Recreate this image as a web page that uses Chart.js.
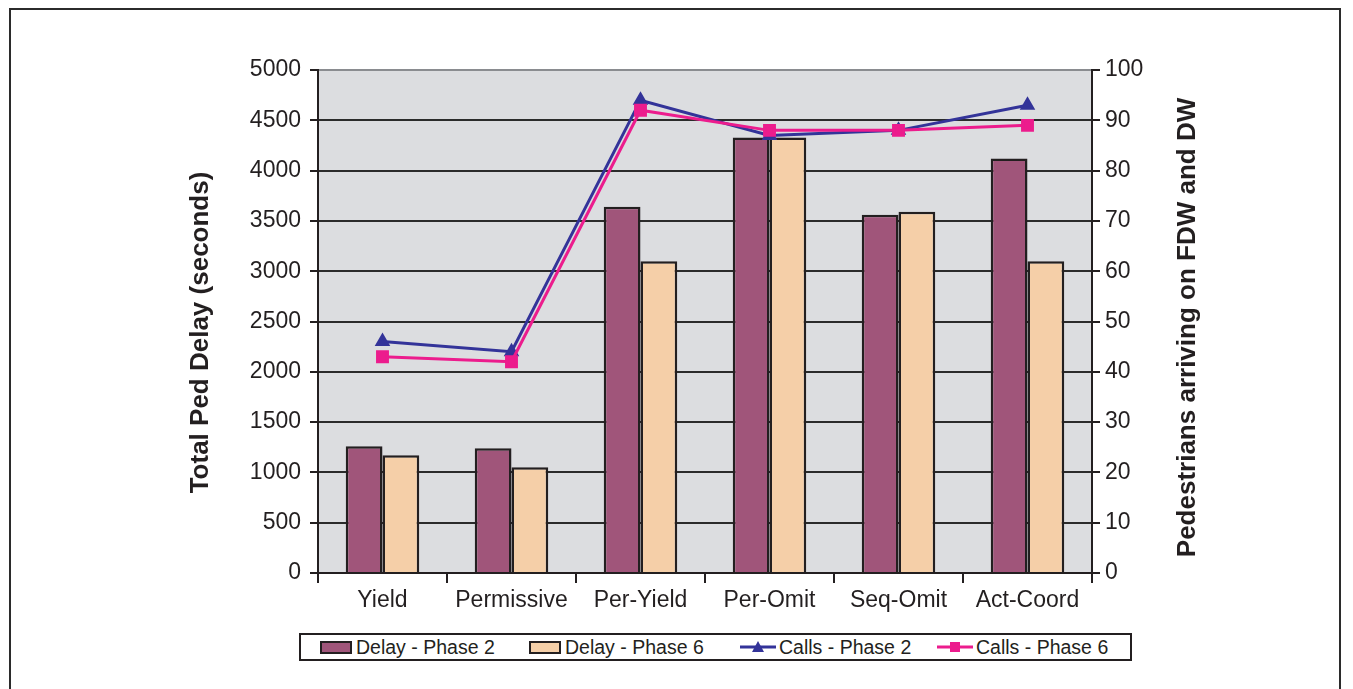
<!DOCTYPE html>
<html lang="en">
<head>
    <meta charset="UTF-8">
    <title>Total Ped Delay</title>
    <script src="https://cdn.jsdelivr.net/npm/chart.js@4"></script>
    <style>
        body { margin: 0; background: #fff; font-family: "Liberation Sans", Arial, sans-serif; color: #231f20; }
        #frame { position: absolute; left: 9px; top: 8px; width: 1332px; height: 700px; border: 2px solid #2b2b2b; border-bottom: none; box-sizing: border-box; }
        #wrap { position: absolute; left: 0; top: 0; width: 1353px; height: 689px; }
        #leyenda { position: absolute; left: 299px; top: 633px; width: 833px; height: 28px; border: 2px solid #231f20; background: #fff; box-sizing: border-box; }
        .item { position: absolute; top: 1px; height: 22px; display: flex; align-items: center; font-size: 19.5px; white-space: nowrap; }
        .caja { width: 32px; height: 13px; border: 2px solid #231f20; box-sizing: border-box; margin-right: 4px; }
    </style>
</head>
<body>
    <div id="frame"></div>
    <div id="wrap"><canvas id="grafico" width="1353" height="689"></canvas></div>
    <div id="leyenda">
        <div class="item" style="left:19px"><div class="caja" style="background:#a0557a"></div>Delay - Phase 2</div>
        <div class="item" style="left:228px"><div class="caja" style="background:#f5cfa8"></div>Delay - Phase 6</div>
        <div class="item" style="left:439px">
            <svg width="36" height="14" style="margin-right:3px"><line x1="0" y1="7" x2="36" y2="7" stroke="#333399" stroke-width="3"/><polygon points="18,1 24,12 12,12" fill="#333399"/></svg>Calls - Phase 2</div>
        <div class="item" style="left:636px">
            <svg width="36" height="14" style="margin-right:3px"><line x1="0" y1="7" x2="36" y2="7" stroke="#ec1c8d" stroke-width="3"/><rect x="13" y="2" width="10" height="10" fill="#ec1c8d"/></svg>Calls - Phase 6</div>
    </div>

    <script>
        // Datos
        const categorias = ['Yield', 'Permissive', 'Per-Yield', 'Per-Omit', 'Seq-Omit', 'Act-Coord'];
        const delayFase2 = [1260, 1240, 3640, 4330, 3560, 4120];
        const delayFase6 = [1170, 1050, 3100, 4330, 3590, 3100];
        const callsFase2 = [46, 44, 94, 87, 88, 93];
        const callsFase6 = [43, 42, 92, 88, 88, 89];

        const fuente = '"Liberation Sans", Arial, sans-serif';
        const tinta = '#231f20';
        const tituloIzquierdo = 'Total Ped Delay (seconds)';
        const tituloDerecho = 'Pedestrians arriving on FDW and DW';

        // Fondo gris del area de trazado
        const fondoArea = {
            id: 'fondoArea',
            beforeDraw(chart) {
                const { ctx, chartArea: a } = chart;
                ctx.save();
                ctx.fillStyle = '#dcdde0';
                ctx.fillRect(a.left, a.top, a.right - a.left, a.bottom - a.top);
                ctx.restore();
            }
        };

        // Titulos de los ejes, leidos de abajo hacia arriba
        function tituloVertical(ctx, texto, x, y) {
            ctx.save();
            ctx.translate(x, y);
            ctx.rotate(-Math.PI / 2);
            ctx.font = 'bold 26px ' + fuente;
            ctx.fillStyle = tinta;
            ctx.textAlign = 'center';
            ctx.textBaseline = 'middle';
            ctx.fillText(texto, 0, 0);
            ctx.restore();
        }

        const titulosEjes = {
            id: 'titulosEjes',
            afterDraw(chart) {
                const { ctx, chartArea: a } = chart;
                const medio = (a.top + a.bottom) / 2;
                tituloVertical(ctx, tituloIzquierdo, chart.scales.y.left + 21, medio + 11);
                tituloVertical(ctx, tituloDerecho, chart.scales.y1.right - 15, medio + 6);
            }
        };

        const ctx = document.getElementById('grafico').getContext('2d');
        new Chart(ctx, {
            type: 'bar',
            data: {
                labels: categorias,
                datasets: [
                    {
                        label: 'Delay - Phase 2',
                        data: delayFase2,
                        backgroundColor: '#a0557a',
                        borderColor: tinta,
                        borderWidth: 2.5,
                        yAxisID: 'y',
                        order: 2,
                        barPercentage: 1,
                        categoryPercentage: 0.57
                    },
                    {
                        label: 'Delay - Phase 6',
                        data: delayFase6,
                        backgroundColor: '#f5cfa8',
                        borderColor: tinta,
                        borderWidth: 2.5,
                        yAxisID: 'y',
                        order: 2,
                        barPercentage: 1,
                        categoryPercentage: 0.57
                    },
                    {
                        type: 'line',
                        label: 'Calls - Phase 2',
                        data: callsFase2,
                        borderColor: '#333399',
                        backgroundColor: '#333399',
                        borderWidth: 3,
                        pointStyle: 'triangle',
                        pointRadius: 6,
                        yAxisID: 'y1',
                        order: 1
                    },
                    {
                        type: 'line',
                        label: 'Calls - Phase 6',
                        data: callsFase6,
                        borderColor: '#ec1c8d',
                        backgroundColor: '#ec1c8d',
                        borderWidth: 3,
                        pointStyle: 'rect',
                        pointRadius: 7,
                        yAxisID: 'y1',
                        order: 0
                    }
                ]
            },
            options: {
                responsive: false,
                animation: false,
                layout: { padding: { left: 180, right: 150, top: 70, bottom: 66 } },
                plugins: {
                    legend: { display: false },
                    tooltip: { enabled: false }
                },
                scales: {
                    x: {
                        afterFit: (s) => { s.height = 50; },
                        grid: { offset: true, drawOnChartArea: false, color: tinta, lineWidth: 2, tickLength: 10 },
                        border: { color: tinta, width: 2 },
                        ticks: { color: tinta, font: { family: fuente, size: 23 }, padding: 4 }
                    },
                    y: {
                        position: 'left',
                        min: 0,
                        max: 5000,
                        afterFit: (s) => { s.width = 138; },
                        ticks: { stepSize: 500, color: tinta, font: { family: fuente, size: 23 }, padding: 9, callback: (v) => String(v) },
                        grid: {
                            color: (c) => c.tick && c.tick.value === 5000 ? '#8a8c90' : '#2b2b2b',
                            tickColor: tinta,
                            lineWidth: 2,
                            tickLength: 8
                        },
                        border: { color: tinta, width: 2 }
                    },
                    y1: {
                        position: 'right',
                        min: 0,
                        max: 100,
                        afterFit: (s) => { s.width = 111; },
                        ticks: { stepSize: 10, color: tinta, font: { family: fuente, size: 23 }, padding: 5 },
                        grid: { drawOnChartArea: false, color: tinta, lineWidth: 2, tickLength: 8 },
                        border: { color: tinta, width: 2 }
                    }
                }
            },
            plugins: [fondoArea, titulosEjes]
        });
    </script>
</body>
</html>
